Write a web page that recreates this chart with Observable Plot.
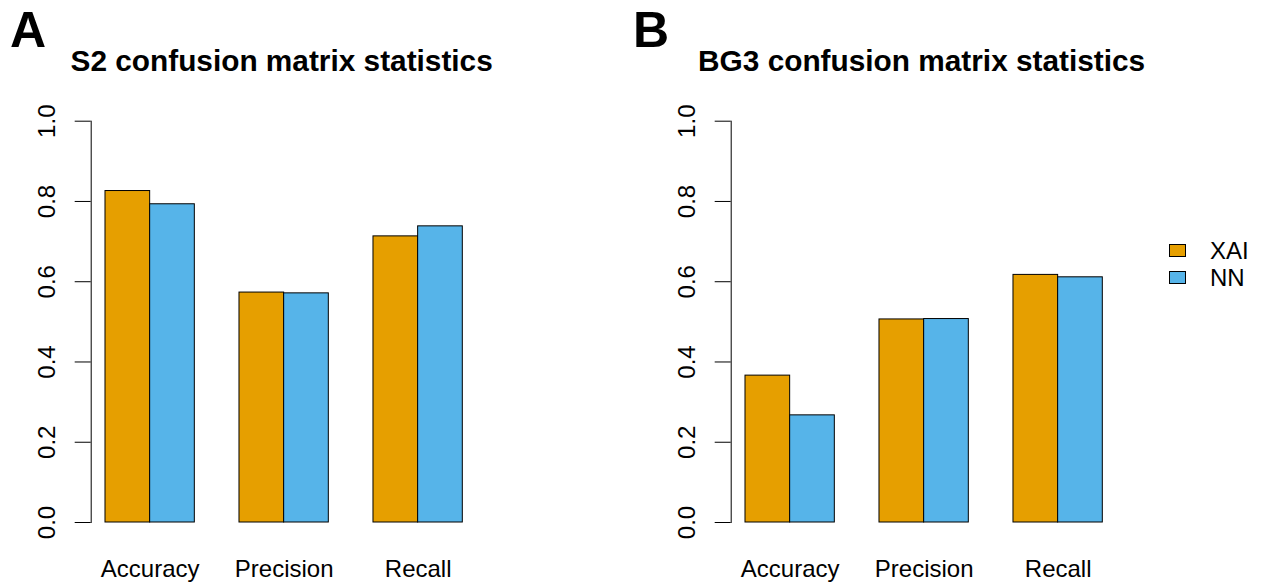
<!DOCTYPE html>
<html><head><meta charset="utf-8">
<script src="https://cdn.jsdelivr.net/npm/d3@7"></script>
<script src="https://cdn.jsdelivr.net/npm/@observablehq/plot@0.6"></script>
<style>
body{margin:0;background:#fff;font-family:"Liberation Sans",Arial,Helvetica,sans-serif;}
#root{position:relative;width:1261px;height:583px;overflow:hidden;background:#fff;}
.panel{position:absolute;top:0;}
.title{position:absolute;font-weight:bold;font-size:29.8px;line-height:29.8px;white-space:nowrap;color:#000;transform:translateX(-50%);}
.letter{position:absolute;font-weight:bold;font-size:50px;line-height:50px;color:#000;}
.legend{position:absolute;left:1169px;top:237px;font-size:24px;color:#000;}
.legend .row{display:flex;align-items:center;height:27px;}
.legend .sw{width:17px;height:13px;border:1px solid #000;box-sizing:border-box;margin-right:24px;}
</style></head><body><div id="root"></div>
<script>
// ---- data ----
const metrics = ["Accuracy", "Precision", "Recall"];
const models = ["XAI", "NN"];
const colors = ["#E69F00", "#56B4E9"];
const s2XAI = [0.826, 0.573, 0.713];
const s2NN = [0.793, 0.571, 0.738];
const bg3XAI = [0.366, 0.506, 0.617];
const bg3NN = [0.267, 0.507, 0.611];
const yTicks = [0, 0.2, 0.4, 0.6, 0.8, 1.0];
const titles = ["S2 confusion matrix statistics", "BG3 confusion matrix statistics"];
const letters = ["A", "B"];

const root = document.getElementById("root");
const W = 640, H = 583, ML = 90.7, MR = 163.4, MT = 120.7, MB = 61;
const xOpts = {type: "band", domain: metrics, paddingInner: 1/3, paddingOuter: 0.32/3, align: 0.5, round: false};
const bw = Plot.scale({x: {...xOpts, range: [ML, W - MR]}}).bandwidth;

function rowsOf(xai, nn) {
  const r = [];
  metrics.forEach((m, i) => {
    r.push({metric: m, model: models[0], value: xai[i]});
    r.push({metric: m, model: models[1], value: nn[i]});
  });
  return r;
}

function panel(rows, left) {
  const chart = Plot.plot({
    width: W, height: H,
    marginLeft: ML, marginRight: MR, marginTop: MT, marginBottom: MB,
    style: {fontFamily: '"Liberation Sans", Arial, Helvetica, sans-serif', fontSize: "24px", color: "#000", background: "transparent"},
    x: {...xOpts, label: null},
    y: {domain: [0, 1], label: null},
    color: {domain: models, range: colors},
    marks: [
      Plot.barY(rows.filter(d => d.model === models[0]), {x: "metric", y: "value", fill: "model", stroke: "black", strokeWidth: 1, insetLeft: 0, insetRight: bw / 2}),
      Plot.barY(rows.filter(d => d.model === models[1]), {x: "metric", y: "value", fill: "model", stroke: "black", strokeWidth: 1, insetLeft: bw / 2, insetRight: 0}),
      Plot.frame({anchor: "left", stroke: "black"}),
      Plot.axisY(yTicks, {tickSize: 16, tickPadding: 20, tickRotate: -90, fontSize: 24, tickFormat: d3.format(".1f"), stroke: "black", label: null}),
      Plot.axisX({tickSize: 0, tickPadding: 37, fontSize: 24, label: null})
    ]
  });
  chart.classList.add("panel");
  chart.style.left = left + "px";
  root.appendChild(chart);
}

panel(rowsOf(s2XAI, s2NN), 0);
panel(rowsOf(bg3XAI, bg3NN), 640);

// titles and panel letters
[0, 640].forEach((off, i) => {
  const t = document.createElement("div");
  t.className = "title";
  t.style.left = (off + (ML + W - MR) / 2 - 2) + "px";
  t.style.top = "46px";
  t.textContent = titles[i];
  root.appendChild(t);
  const l = document.createElement("div");
  l.className = "letter";
  l.style.left = (i === 0 ? 10 : 633) + "px";
  l.style.top = "5px";
  l.textContent = letters[i];
  root.appendChild(l);
});

// legend
const lg = document.createElement("div");
lg.className = "legend";
models.forEach((m, i) => {
  const r = document.createElement("div");
  r.className = "row";
  const s = document.createElement("div");
  s.className = "sw";
  s.style.background = colors[i];
  const tx = document.createElement("span");
  tx.textContent = m;
  r.appendChild(s); r.appendChild(tx);
  lg.appendChild(r);
});
root.appendChild(lg);
</script>
</body></html>
